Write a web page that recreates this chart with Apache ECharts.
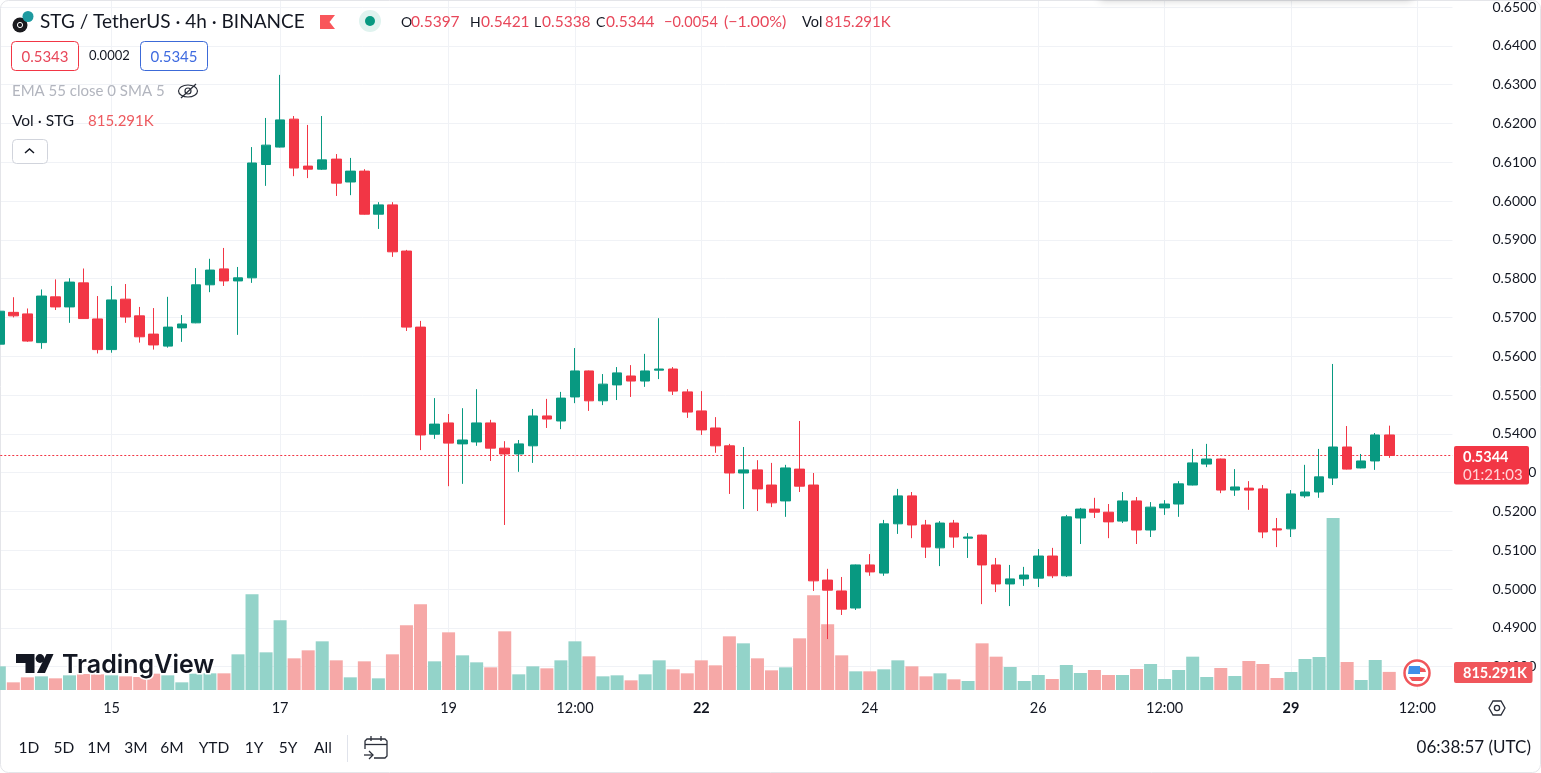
<!DOCTYPE html>
<html>
<head>
<meta charset="utf-8">
<title>STG / TetherUS</title>
<style>
  html, body { margin: 0; padding: 0; background: #fff; overflow: hidden; }
  #main { width: 1541px; height: 773px; }
</style>
<script src="https://cdn.jsdelivr.net/npm/echarts@6/dist/echarts.min.js"></script>
</head>
<body>
<div id="main"></div>
<script>
// candles, oldest first
const opens = [
  0.5631, 0.5713, 0.5709, 0.5635, 0.5753, 0.5727, 0.5789, 0.5696, 0.5617, 0.5747,
  0.5704, 0.5657, 0.5626, 0.5673, 0.5686, 0.5784, 0.5825, 0.5794, 0.5802, 0.6094,
  0.6139, 0.6211, 0.6090, 0.6082, 0.6108, 0.6049, 0.6077, 0.5966, 0.5990, 0.5871,
  0.5675, 0.5399, 0.5428, 0.5374, 0.5379, 0.5428, 0.5363, 0.5348, 0.5369, 0.5446,
  0.5433, 0.5495, 0.5562, 0.5485, 0.5526, 0.5549, 0.5536, 0.5564, 0.5567, 0.5508,
  0.5459, 0.5415, 0.5369, 0.5299, 0.5307, 0.5268, 0.5227, 0.5309, 0.5268, 0.5023,
  0.4995, 0.4951, 0.5062, 0.5041, 0.5168, 0.5240, 0.5165, 0.5106, 0.5170, 0.5131,
  0.5139, 0.5062, 0.5013, 0.5026, 0.5028, 0.5085, 0.5034, 0.5183, 0.5206, 0.5198,
  0.5175, 0.5227, 0.5152, 0.5209, 0.5219, 0.5268, 0.5322, 0.5335, 0.5255, 0.5260,
  0.5258, 0.5155, 0.5155, 0.5240, 0.5250, 0.5286, 0.5366, 0.5312, 0.5330, 0.5397
];
const closes = [
  0.5716, 0.5704, 0.5639, 0.5755, 0.5727, 0.5791, 0.5697, 0.5617, 0.5745, 0.5701,
  0.5650, 0.5629, 0.5675, 0.5683, 0.5784, 0.5822, 0.5794, 0.5802, 0.6098, 0.6144,
  0.6209, 0.6085, 0.6082, 0.6106, 0.6046, 0.6077, 0.5966, 0.5990, 0.5869, 0.5675,
  0.5397, 0.5425, 0.5376, 0.5384, 0.5428, 0.5363, 0.5348, 0.5374, 0.5446, 0.5438,
  0.5492, 0.5562, 0.5485, 0.5528, 0.5557, 0.5536, 0.5562, 0.5567, 0.5510, 0.5456,
  0.5410, 0.5369, 0.5299, 0.5307, 0.5258, 0.5222, 0.5312, 0.5265, 0.5021, 0.4997,
  0.4948, 0.5062, 0.5044, 0.5168, 0.5240, 0.5165, 0.5108, 0.5170, 0.5134, 0.5134,
  0.5062, 0.5013, 0.5026, 0.5036, 0.5085, 0.5034, 0.5186, 0.5206, 0.5198, 0.5173,
  0.5227, 0.5152, 0.5211, 0.5219, 0.5271, 0.5325, 0.5335, 0.5255, 0.5263, 0.5255,
  0.5147, 0.5152, 0.5245, 0.5250, 0.5289, 0.5366, 0.5309, 0.5330, 0.5397, 0.5344
];
const lows = [
  0.5625, 0.5700, 0.5637, 0.5619, 0.5719, 0.5686, 0.5696, 0.5607, 0.5609, 0.5686,
  0.5635, 0.5617, 0.5622, 0.5637, 0.5685, 0.5765, 0.5781, 0.5655, 0.5789, 0.6039,
  0.6138, 0.6064, 0.6059, 0.6080, 0.6013, 0.6015, 0.5965, 0.5928, 0.5856, 0.5665,
  0.5358, 0.5387, 0.5265, 0.5271, 0.5369, 0.5330, 0.5165, 0.5302, 0.5325, 0.5415,
  0.5412, 0.5479, 0.5459, 0.5474, 0.5487, 0.5495, 0.5521, 0.5541, 0.5500, 0.5441,
  0.5397, 0.5351, 0.5245, 0.5206, 0.5201, 0.5211, 0.5186, 0.5250, 0.4995, 0.4871,
  0.4933, 0.4946, 0.5034, 0.5034, 0.5142, 0.5131, 0.5080, 0.5059, 0.5106, 0.5080,
  0.4961, 0.4992, 0.4956, 0.5008, 0.5005, 0.5028, 0.5031, 0.5116, 0.5183, 0.5131,
  0.5170, 0.5116, 0.5134, 0.5191, 0.5186, 0.5267, 0.5314, 0.5247, 0.5240, 0.5204,
  0.5131, 0.5108, 0.5134, 0.5235, 0.5235, 0.5268, 0.5308, 0.5311, 0.5307, 0.5338
];
const highs = [
  0.5728, 0.5752, 0.5723, 0.5772, 0.5798, 0.5801, 0.5826, 0.5755, 0.5781, 0.5786,
  0.5727, 0.5724, 0.5753, 0.5706, 0.5827, 0.5851, 0.5879, 0.5830, 0.6139, 0.6214,
  0.6325, 0.6219, 0.6196, 0.6219, 0.6121, 0.6111, 0.6082, 0.5997, 0.5997, 0.5874,
  0.5691, 0.5492, 0.5451, 0.5466, 0.5515, 0.5436, 0.5381, 0.5384, 0.5464, 0.5490,
  0.5508, 0.5621, 0.5563, 0.5554, 0.5572, 0.5577, 0.5606, 0.5698, 0.5572, 0.5515,
  0.5510, 0.5443, 0.5374, 0.5366, 0.5332, 0.5325, 0.5320, 0.5433, 0.5299, 0.5052,
  0.5031, 0.5063, 0.5090, 0.5178, 0.5258, 0.5250, 0.5178, 0.5175, 0.5178, 0.5144,
  0.5140, 0.5080, 0.5062, 0.5057, 0.5103, 0.5106, 0.5191, 0.5209, 0.5235, 0.5219,
  0.5250, 0.5237, 0.5224, 0.5229, 0.5278, 0.5361, 0.5374, 0.5336, 0.5309, 0.5278,
  0.5268, 0.5183, 0.5255, 0.5320, 0.5361, 0.5580, 0.5420, 0.5348, 0.5402, 0.5421
];
// volume in thousands
const volumes = [
  1065, 345, 570, 615, 525, 660, 720, 705, 660, 615,
  585, 735, 660, 345, 735, 750, 750, 1605, 4305, 1695,
  3135, 1425, 1785, 2190, 1335, 570, 1290, 525, 1605, 2910,
  3855, 1290, 2595, 1560, 1245, 1020, 2640, 705, 1065, 975,
  1335, 2190, 1515, 615, 660, 435, 705, 1335, 930, 750,
  1335, 1110, 2415, 2100, 1425, 885, 1020, 2325, 4260, 2955,
  1560, 840, 840, 930, 1335, 1065, 615, 750, 480, 405,
  2100, 1500, 1035, 405, 675, 495, 1125, 765, 900, 675,
  675, 945, 1170, 495, 900, 1500, 585, 990, 630, 1305,
  1170, 540, 810, 1395, 1485, 7740, 1260, 450, 1350, 815
];
const timeTicks = {
  '15 00:00': '15', '17 00:00': '17', '19 00:00': '19', '20 12:00': '12:00',
  '22 00:00': '{b|22}', '24 00:00': '24', '26 00:00': '26', '27 12:00': '12:00',
  '29 00:00': '{b|29}', '30 12:00': '12:00'
};
const rangeButtons = ['1D', '5D', '1M', '3M', '6M', 'YTD', '1Y', '5Y', 'All'];

// 4h bars from the 13th 16:00, plus a few empty ones to the right
const categories = [];
for (let i = 0; i < 104; i++) {
  const h = 16 + i * 4;
  const hh = String(h % 24).padStart(2, '0');
  categories.push(13 + Math.floor(h / 24) + ' ' + hh + ':00');
}

const FONT = 'Lato, "Open Sans", sans-serif';
const UP = '#089981';
const DOWN = '#F23645';
const GRID_LINE = '#F0F2F6';
const INK = '#131722';
const VALUE_RED = '#E8475A';

const isTick = (i, name) => timeTicks[name] !== undefined;
const xSplit = { show: true, interval: isTick, alignWithLabel: true, lineStyle: { color: GRID_LINE, width: 1 } };

function txt(x, y, text, size, color, extra) {
  return {
    type: 'text', z: 100, x: x, y: y, silent: true,
    style: Object.assign({
      text: text, fontSize: size, fill: color, fontFamily: FONT,
      verticalAlign: 'middle', align: 'left'
    }, extra || {})
  };
}
function box(x, y, w, h, r, fill, stroke) {
  return {
    type: 'rect', z: 100, silent: true,
    shape: { x: x, y: y, width: w, height: h, r: r },
    style: { fill: fill, stroke: stroke, lineWidth: 1 }
  };
}
function line(points, color, width) {
  return {
    type: 'polyline', z: 100, silent: true,
    shape: { points: points },
    style: { fill: 'none', stroke: color, lineWidth: width || 1.3 }
  };
}
function circle(cx, cy, r, fill, stroke, lw) {
  return {
    type: 'circle', z: 100, silent: true,
    shape: { cx: cx, cy: cy, r: r },
    style: { fill: fill, stroke: stroke, lineWidth: lw || 0 }
  };
}
function poly(points, fill, stroke, lw) {
  return {
    type: 'polygon', z: 100, silent: true,
    shape: { points: points },
    style: { fill: fill, stroke: stroke, lineWidth: lw || 0 }
  };
}

const graphics = [
  // window edge and the shadow of the toolbar above
  { type: 'rect', z: 1, silent: true, shape: { x: 0.5, y: 0.5, width: 1540, height: 772, r: 8 }, style: { fill: 'none', stroke: '#E4E5E9', lineWidth: 1 } },
  { type: 'rect', z: 1, silent: true, shape: { x: 1100, y: -8, width: 312, height: 8 }, style: { fill: '#fff', shadowBlur: 8, shadowColor: 'rgba(0,0,0,0.22)' } },

  // header
  circle(20, 25, 7.5, '#1B1B1F'),
  circle(20, 25, 2.6, 'none', '#fff', 1),
  circle(28, 16.5, 5.5, '#1E9AA0'),
  txt(40, 22, 'STG / TetherUS · 4h · BINANCE', 19, INK),
  poly([[320, 15], [335, 15], [329.5, 22], [335, 29], [320, 29]], '#F9565B'),
  circle(370, 21, 11, '#E0F3EF'),
  circle(370, 21, 5, UP),
  txt(401, 22, 'O', 14, INK), txt(411, 22, '0.5397', 15.5, VALUE_RED),
  txt(470, 22, 'H', 14, INK), txt(481, 22, '0.5421', 15.5, VALUE_RED),
  txt(534, 22, 'L', 14, INK), txt(542, 22, '0.5338', 15.5, VALUE_RED),
  txt(596, 22, 'C', 14, INK), txt(606, 22, '0.5344', 15.5, VALUE_RED),
  txt(664, 22, '−0.0054', 14.5, VALUE_RED), txt(724, 22, '(−1.00%)', 16, VALUE_RED),
  txt(802, 22, 'Vol', 14.5, INK), txt(825, 22, '815.291K', 15, VALUE_RED),

  // bid / ask
  box(11.5, 41.5, 67, 29, 4, '#fff', DOWN),
  txt(45, 57, '0.5343', 15, VALUE_RED, { align: 'center' }),
  txt(89, 56, '0.0002', 13, INK),
  box(140.5, 41.5, 67, 29, 4, '#fff', '#3C6AD8'),
  txt(174, 57, '0.5345', 15, '#3F6BE0', { align: 'center' }),

  // indicators
  txt(12, 91, 'EMA 55 close 0 SMA 5', 15, '#B2B5BE'),
  { type: 'ellipse', z: 100, silent: true, shape: { cx: 188, cy: 91, rx: 9.5, ry: 6 }, style: { fill: 'none', stroke: '#2A2E39', lineWidth: 1.2 } },
  circle(188, 91, 3, 'none', '#2A2E39', 1.2),
  line([[181, 98], [196, 84]], '#2A2E39', 1.2),
  txt(12, 121, 'Vol · STG', 15.5, INK),
  txt(88, 121, '815.291K', 15, '#ED5A5F'),
  box(12.5, 139.5, 35, 24, 4, '#fff', '#D1D4DC'),
  line([[25, 153], [29.5, 149], [34, 153]], INK, 1.5),

  // TradingView watermark
  poly([[16, 654], [34.5, 654], [34.5, 673], [25.5, 673], [25.5, 663], [16, 663]], INK),
  circle(40, 658.5, 4.4, INK),
  poly([[46.5, 654], [53.5, 654], [45, 673], [37, 673]], INK),
  txt(62, 665, 'TradingView', 25, INK, { fontFamily: 'Inter, sans-serif', fontWeight: 600, stroke: '#fff', lineWidth: 3 }),

  // last price and volume tags
  box(1454, 446, 75, 38.5, 2, '#F23645', 'none'),
  txt(1463, 457, '0.5344', 14.5, '#fff', { fontWeight: 'bold' }),
  txt(1463, 475, '01:21:03', 15, '#FFD5D8'),
  box(1454, 662, 78.5, 21, 2, '#F0565B', 'none'),
  txt(1463, 673, '815.291K', 14.5, '#fff', { fontWeight: 'bold' }),

  // session badge
  circle(1417, 673, 12.5, '#fff', '#F0565B', 2.5),
  poly([[1409, 666], [1420, 666], [1420, 674], [1408, 674]], '#3F8FE8'),
  poly([[1420, 667], [1425, 669], [1426, 672], [1420, 672]], '#F0565B'),
  poly([[1409, 677], [1425, 677], [1422, 681], [1412, 681]], '#F0565B'),

  // settings hexagon
  poly([[1489, 708], [1493, 701], [1501, 701], [1505, 708], [1501, 715], [1493, 715]], 'none', '#2A2E39', 1.3),
  circle(1497, 708, 2.6, 'none', '#2A2E39', 1.3),

  // bottom bar
  { type: 'rect', z: 100, silent: true, shape: { x: 347, y: 735, width: 1, height: 27 }, style: { fill: '#E0E3EB' } },
  line([[365, 749], [365, 741], [367, 739], [385, 739], [387, 741], [387, 756], [385, 758], [374, 758]], '#2A2E39'),
  line([[365, 744.5], [387, 744.5]], '#2A2E39'),
  line([[371, 736], [371, 741]], '#2A2E39'),
  line([[381, 736], [381, 741]], '#2A2E39'),
  line([[364, 755], [373, 755]], '#2A2E39'),
  line([[369, 751], [373, 755], [369, 759]], '#2A2E39'),
  txt(1531, 748, '06:38:57 (UTC)', 17, INK, { align: 'right' })
];
const buttonX = [29, 64, 99, 136, 172, 214, 254, 288, 323];
rangeButtons.forEach((t, i) => graphics.push(txt(buttonX[i], 748, t, 15.5, INK, { align: 'center' })));

const chart = echarts.init(document.getElementById('main'));
chart.setOption({
  animation: false,
  backgroundColor: '#fff',
  textStyle: { fontFamily: FONT },
  grid: [
    { left: -7.72, width: 1460.16, top: -31.8, height: 698.4, outerBoundsMode: 'none' },
    { left: -7.72, width: 1460.16, top: 490, height: 200, outerBoundsMode: 'none' }
  ],
  xAxis: [
    {
      type: 'category', gridIndex: 0, data: categories,
      axisLine: { show: false }, axisTick: { show: false }, axisLabel: { show: false },
      splitLine: xSplit
    },
    {
      type: 'category', gridIndex: 1, data: categories,
      axisLine: { show: false }, axisTick: { show: false },
      splitLine: xSplit,
      axisLabel: {
        interval: isTick, margin: 11, fontSize: 14.5, color: INK, fontFamily: FONT,
        formatter: (name) => timeTicks[name] || '',
        rich: { b: { fontSize: 14.5, fontWeight: 'bold', color: INK, fontFamily: FONT } }
      }
    }
  ],
  yAxis: [
    {
      type: 'value', gridIndex: 0, position: 'right', scale: true,
      min: 0.48, max: 0.66, interval: 0.01,
      axisLine: { show: false }, axisTick: { show: false },
      splitLine: { show: true, showMaxLine: false, lineStyle: { color: GRID_LINE, width: 1 } },
      axisLabel: {
        margin: 40, fontSize: 14, color: INK, fontFamily: FONT, showMaxLabel: false,
        formatter: (v) => v.toFixed(4)
      }
    },
    {
      type: 'value', gridIndex: 1, min: 0, max: 9000, show: false,
      splitLine: { show: false }
    }
  ],
  series: [
    {
      type: 'bar', xAxisIndex: 1, yAxisIndex: 1, z: 1, barWidth: 13,
      data: volumes, silent: true,
      itemStyle: { color: (p) => (closes[p.dataIndex] >= opens[p.dataIndex] ? '#93D3C9' : '#F6A8A7') }
    },
    {
      type: 'candlestick', xAxisIndex: 0, yAxisIndex: 0, z: 5, barWidth: 10, silent: true,
      data: opens.map((o, i) => [o, closes[i], lows[i], highs[i]]),
      itemStyle: { color: UP, color0: DOWN, borderColor: UP, borderColor0: DOWN, borderWidth: 1 },
      markLine: {
        silent: true, symbol: 'none', animation: false, precision: 4,
        label: { show: false },
        lineStyle: { color: DOWN, type: [2, 2], width: 1, opacity: 1 },
        data: [{ yAxis: closes[closes.length - 1] }]
      }
    }
  ],
  graphic: { elements: graphics }
});
</script>
</body>
</html>
